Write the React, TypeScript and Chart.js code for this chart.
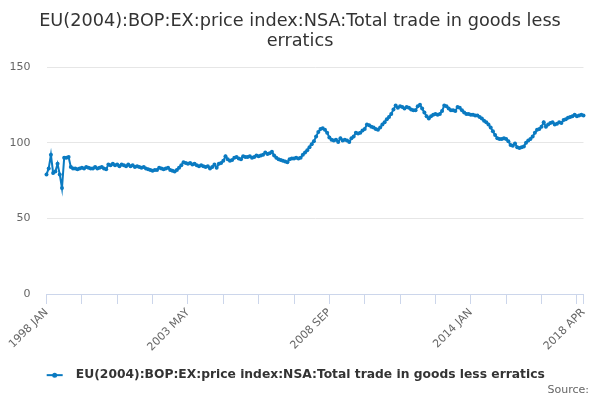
import React, { useEffect, useRef } from "react";
import { Chart, registerables } from "chart.js";

Chart.register(...registerables);

const TITLE_LINES = [
  "EU(2004):BOP:EX:price index:NSA:Total trade in goods less",
  "erratics",
];
const SERIES_NAME = "EU(2004):BOP:EX:price index:NSA:Total trade in goods less erratics";
const SOURCE_TEXT = "Source:";

const START_YEAR = 1998;
const MONTH_NAMES = ["JAN", "FEB", "MAR", "APR", "MAY", "JUN", "JUL", "AUG", "SEP", "OCT", "NOV", "DEC"];

const Y_MIN = 0;
const Y_MAX = 150;
const Y_STEP = 50;

// monthly values, 1998 JAN .. 2018 APR
const V1998 = [79, 83, 92, 80, 81, 86, 79, 70, 90, 90, 90.5, 84];
const V1999 = [83, 83, 82.5, 83, 83.5, 83, 84, 83.5, 83, 83, 84, 83];
const V2000 = [83.5, 84, 83, 82.5, 85.5, 85, 86, 85, 85.5, 84.5, 85.5, 85];
const V2001 = [84.5, 85.5, 84.5, 85, 84, 84.5, 84, 83.5, 84, 83, 82.5, 82];
const V2002 = [81.5, 82, 82, 83.5, 83, 82.5, 83, 83.5, 82, 81.5, 81, 82];
const V2003 = [83.5, 85, 87, 86.5, 86, 86.5, 85.5, 86, 85, 84.5, 85, 84.5];
const V2004 = [84, 84.5, 83, 84, 85.5, 83.5, 86, 86.5, 88, 91, 89, 88];
const V2005 = [88.5, 90, 90.5, 89.5, 89, 91, 90.5, 90.5, 91, 90, 90.5, 91.5];
const V2006 = [91, 91.5, 92, 93.5, 92.5, 93, 94, 91.5, 90, 89, 88.5, 88];
const V2007 = [87.5, 87, 89, 89.5, 89.5, 90, 89.5, 90, 92, 93.5, 95, 97];
const V2008 = [99, 101, 104, 107, 109, 109.5, 108.5, 106.5, 103.5, 102, 101.5, 102];
const V2009 = [100.5, 103, 101.5, 102, 101.5, 100.5, 103, 104, 106.5, 106, 106.5, 108];
const V2010 = [109, 112, 111.5, 110.5, 110, 109, 108.5, 110, 112, 113.5, 115.5, 117];
const V2011 = [119, 122, 124.5, 123, 124, 123.5, 122.5, 123.5, 123, 122, 121.5, 121.5];
const V2012 = [124, 125, 122.5, 120, 117.5, 116, 117.5, 118.5, 119, 118.5, 119, 121];
const V2013 = [124.5, 124, 122.5, 121.5, 121.5, 121, 123.5, 123, 121.5, 120, 119, 119];
const V2014 = [118.5, 118.5, 118, 118, 117, 116, 114.5, 113.5, 112, 110, 107.5, 105];
const V2015 = [103, 102.5, 102.5, 103, 102.5, 101, 98.5, 98, 99.5, 97, 96.5, 97];
const V2016 = [97.5, 100, 101.5, 102.5, 104, 106.5, 108.5, 109, 110.5, 113.5, 110.5, 112];
const V2017 = [113, 113.5, 112, 112.5, 113.5, 113, 115, 115.5, 116.5, 117, 117.5, 118.5];
const V2018 = [117.5, 118, 118.5, 118];

const VALUES = [
  ...V1998, ...V1999, ...V2000, ...V2001, ...V2002, ...V2003, ...V2004,
  ...V2005, ...V2006, ...V2007, ...V2008, ...V2009, ...V2010, ...V2011,
  ...V2012, ...V2013, ...V2014, ...V2015, ...V2016, ...V2017, ...V2018,
];

const CATEGORIES: string[] = VALUES.map((_, i) => {
  const y = START_YEAR + Math.floor(i / 12);
  return `${y} ${MONTH_NAMES[i % 12]}`;
});

const LABEL_EVERY = 64;
const TICK_EVERY = 16;

const LINE_COLOR = "#0a7ac1";
const AXIS_COLOR = "#ccd6eb";
const GRID_COLOR = "#e6e6e6";
const TEXT_DARK = "#333333";
const TEXT_MUTED = "#666666";
const FONT = "'DejaVu Sans', sans-serif";
const TRANSPARENT = "rgba(0,0,0,0)";

export default function App() {
  const ref = useRef<HTMLCanvasElement | null>(null);

  useEffect(() => {
    if (!ref.current) return;
    const last = CATEGORIES.length - 1;
    const isTick = (i: number) => i % TICK_EVERY === 0 || i === last;

    const extras = {
      id: "extras",
      afterDraw(chart: any) {
        const ctx = chart.ctx;
        ctx.save();
        const lg = chart.legend;
        if (lg && lg.legendHitBoxes && lg.legendHitBoxes.length) {
          const hb = lg.legendHitBoxes[0];
          const cy = hb.top + hb.height / 2;
          ctx.strokeStyle = LINE_COLOR;
          ctx.lineWidth = 2;
          ctx.beginPath();
          ctx.moveTo(hb.left, cy);
          ctx.lineTo(hb.left + 16, cy);
          ctx.stroke();
          ctx.fillStyle = LINE_COLOR;
          ctx.beginPath();
          ctx.arc(hb.left + 8, cy, 2.5, 0, Math.PI * 2);
          ctx.fill();
        }
        ctx.fillStyle = TEXT_MUTED;
        ctx.font = `11px ${FONT}`;
        ctx.textAlign = "right";
        ctx.textBaseline = "middle";
        ctx.fillText(SOURCE_TEXT, 589, 390);
        ctx.restore();
      },
    };

    const chart = new Chart(ref.current, {
      type: "line",
      data: {
        labels: CATEGORIES,
        datasets: [
          {
            label: SERIES_NAME,
            data: VALUES,
            borderColor: LINE_COLOR,
            backgroundColor: LINE_COLOR,
            borderWidth: 2,
            pointRadius: 2,
            pointBorderWidth: 0,
            pointBackgroundColor: LINE_COLOR,
            pointHoverRadius: 3,
            tension: 0,
          },
        ],
      },
      options: {
        responsive: false,
        animation: false,
        layout: { padding: { left: 0, right: 0, top: 0, bottom: 8.7 } },
        font: { family: FONT },
        scales: {
          x: {
            type: "category",
            offset: false,
            border: { display: true, color: AXIS_COLOR, width: 1 },
            grid: {
              drawOnChartArea: false,
              drawTicks: true,
              tickLength: 10,
              color: (c: any) => (isTick(c.index) ? AXIS_COLOR : TRANSPARENT),
              tickColor: (c: any) => (isTick(c.index) ? AXIS_COLOR : TRANSPARENT),
            },
            ticks: {
              autoSkip: false,
              minRotation: 45,
              maxRotation: 45,
              padding: 2,
              color: TEXT_MUTED,
              font: { family: FONT, size: 11 },
              callback: (_v: any, i: number) =>
                i % LABEL_EVERY === 0 || i === last ? CATEGORIES[i] : "",
            },
            afterFit: (s: any) => {
              s.height = 73;
            },
          },
          y: {
            min: Y_MIN,
            max: Y_MAX,
            border: { display: false },
            grid: { color: GRID_COLOR, drawTicks: false, lineWidth: 1 },
            ticks: {
              stepSize: Y_STEP,
              padding: 16,
              color: TEXT_MUTED,
              font: { family: FONT, size: 11 },
            },
            afterFit: (s: any) => {
              s.width = 46.5;
            },
          },
          yRight: {
            type: "linear",
            position: "right",
            display: true,
            border: { display: false },
            grid: { display: false, drawTicks: false },
            ticks: { display: false },
            afterFit: (s: any) => {
              s.width = 16.5;
            },
          },
        },
        plugins: {
          title: {
            display: true,
            text: TITLE_LINES,
            color: TEXT_DARK,
            font: { family: FONT, size: 17.7, weight: "normal", lineHeight: 1.15 },
            padding: { top: 11, bottom: 15.3 },
          },
          legend: {
            display: true,
            position: "bottom",
            labels: {
              boxWidth: 23,
              boxHeight: 2,
              padding: 2,
              color: TEXT_DARK,
              font: { family: FONT, size: 12.3, weight: "bold" },
              generateLabels: (ch: any) => {
                const items = (Chart as any).defaults.plugins.legend.labels.generateLabels(ch);
                items.forEach((it: any) => {
                  it.fillStyle = TRANSPARENT;
                  it.strokeStyle = TRANSPARENT;
                  it.lineWidth = 0;
                  it.text = it.text + "  ";
                });
                return items;
              },
            },
          },
          tooltip: { enabled: false },
        },
      } as any,
      plugins: [extras],
    });
    return () => chart.destroy();
  }, []);

  return (
    <div style={{ position: "absolute", left: 0, top: 0, width: 600, height: 400, background: "#fff" }}>
      <canvas ref={ref} width={600} height={400} style={{ width: 600, height: 400 }} />
    </div>
  );
}
